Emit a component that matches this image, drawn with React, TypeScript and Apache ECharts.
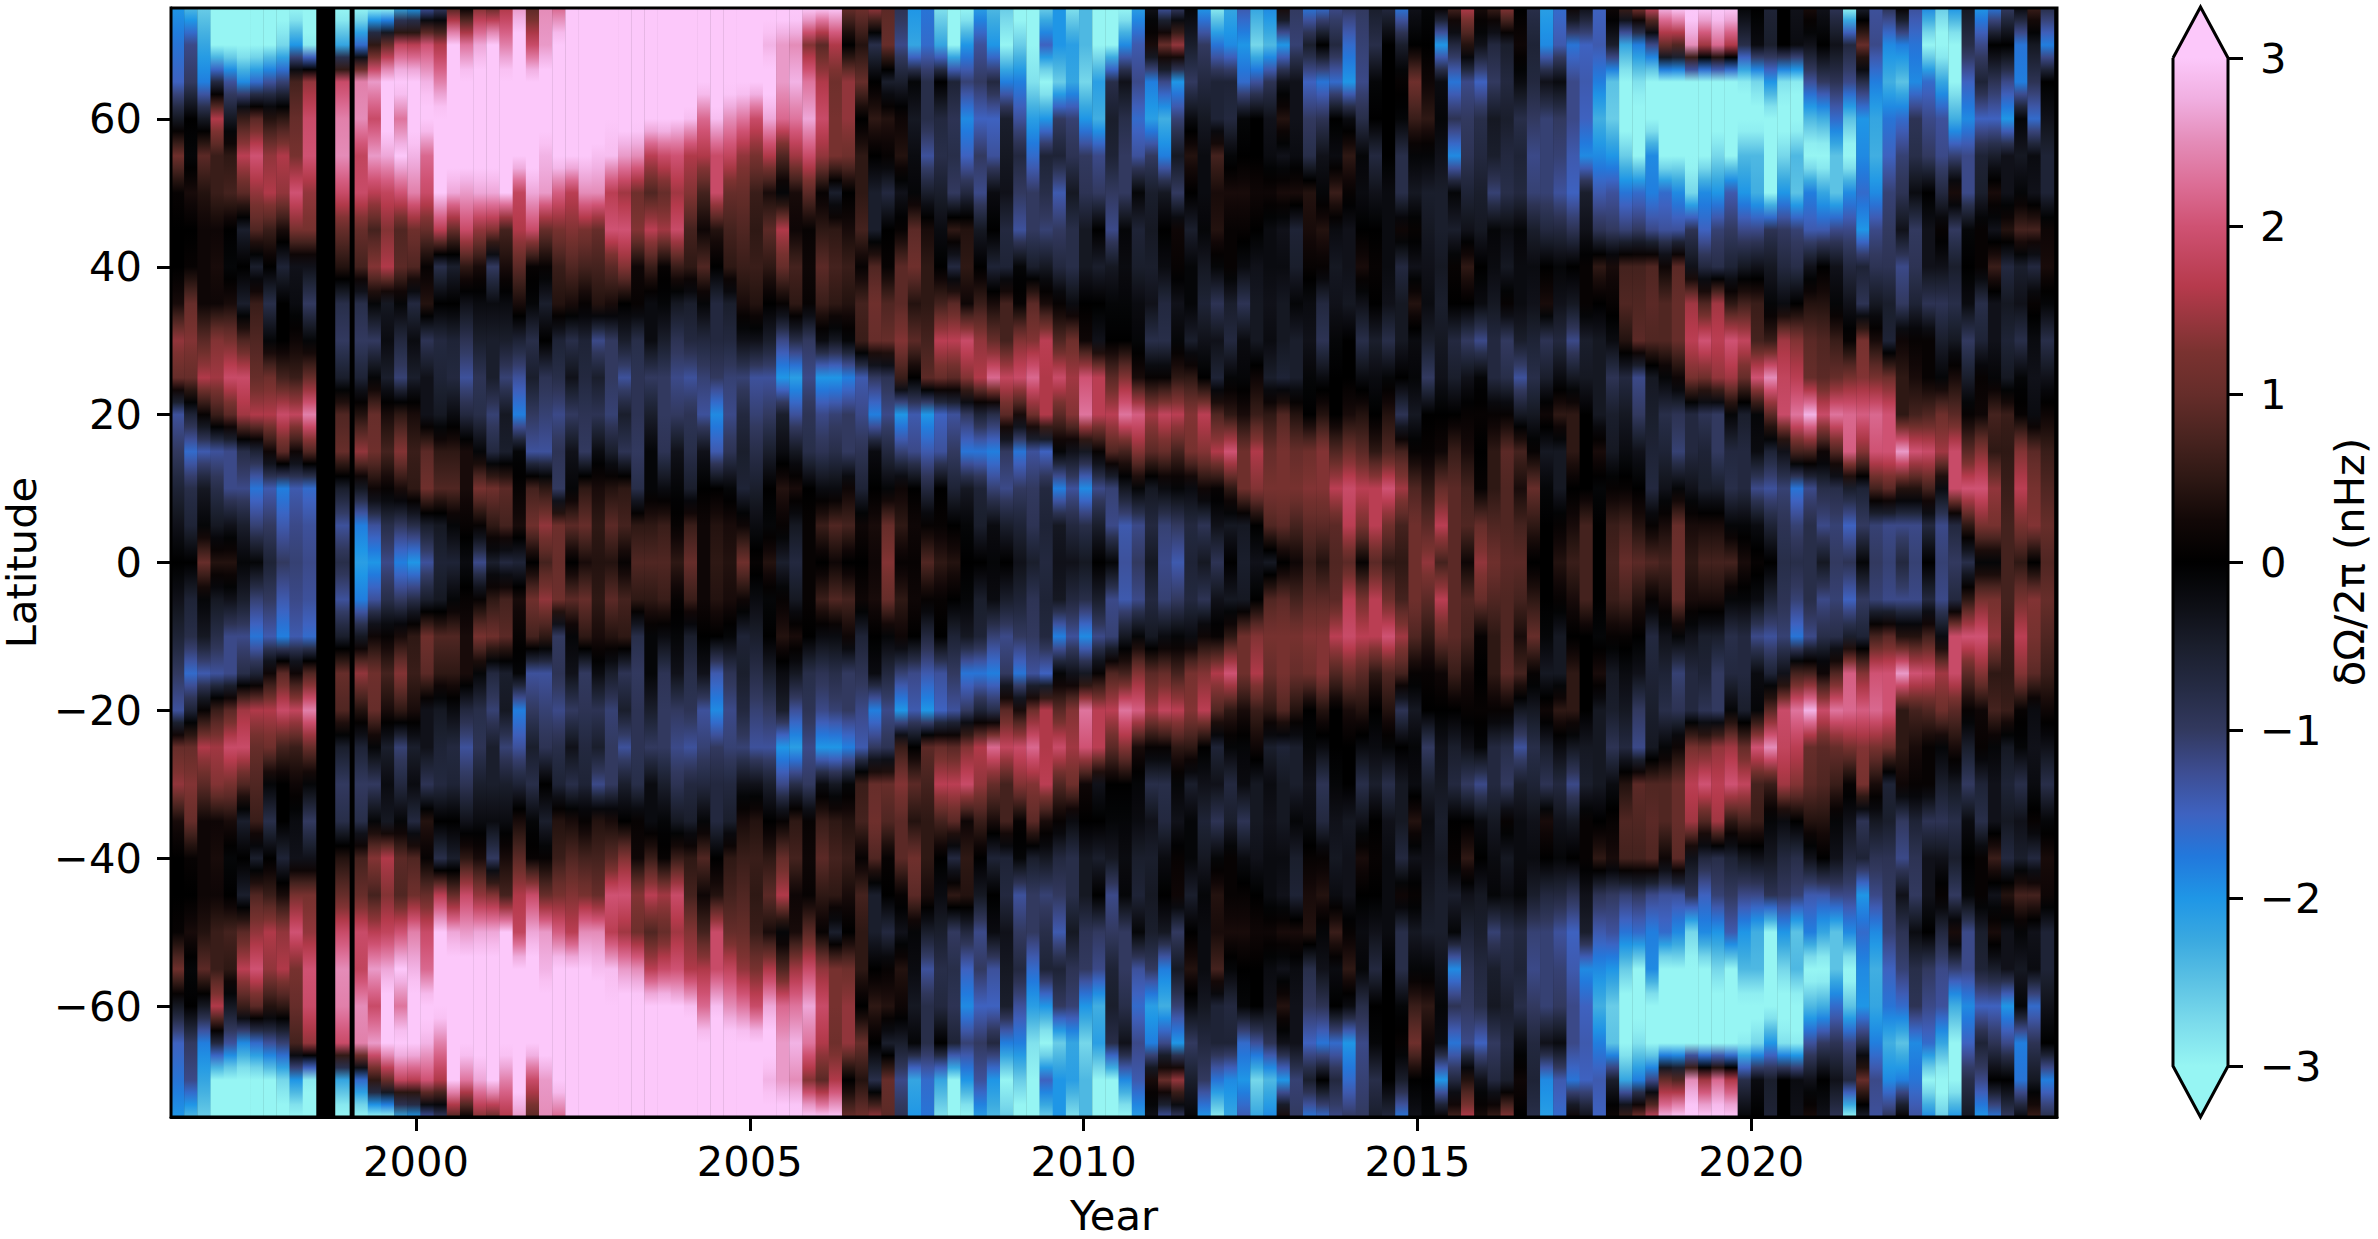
import React, { useEffect, useRef } from "react";
import * as echarts from "echarts";

// Latitudes of each column's values, north to equator; the map is symmetric about the equator.
const latitudesNorth = [75, 70, 65, 60, 55, 50, 45, 40, 35, 30, 25, 20, 15, 10, 5, 0];
const yearTicks = [2000, 2005, 2010, 2015, 2020];
const latitudeTicks = [-60, -40, -20, 0, 20, 40, 60];
const colorbarTicks = [-3, -2, -1, 0, 1, 2, 3];
const colorValues = [-3, -2.75, -2.5, -2.25, -2, -1.75, -1.5, -1.25, -1, -0.75, -0.5, -0.25, 0, 0.25, 0.5, 0.75, 1, 1.25, 1.64, 2, 2.25, 2.5, 2.75, 3];
const colorHex = ["#96f5f3", "#7cdcec", "#5cc2e4", "#3aa9e0", "#1f96e6", "#2278dc", "#3e62c0", "#3d4d92", "#32395f", "#252b44", "#1a1e2c", "#0d0e14", "#000000", "#120807", "#2e1814", "#4a2420", "#662d2a", "#7a3230", "#b63a4c", "#cf5273", "#dc6e96", "#e48cb8", "#f0aee0", "#fcc8fa"];

const cols1996 = [
[-2,-1.7,-1.5,-.4,1.1,.1,0,0,.3,1.4,1,-1.3,-1,-.6,-.3,0],
[-2.4,-1.2,-1,0,-.1,.3,0,.1,1,1.3,1,-.6,-1.6,-.8,-.6,0],
[-2.6,-2.2,-1.8,-.4,.9,.4,.2,.2,.2,.9,1.6,.1,-1.4,-.4,-.1,1],
[-3.2,-3.2,-.7,1.6,.6,.6,.2,.3,.2,1.3,1.5,.6,-1.3,-.8,-.4,.4],
[-3.2,-3.2,-1.3,-.4,.5,.7,0,-.1,.3,1.2,1.9,.9,-1.2,-1.2,-.3,.4],
[-3.2,-3.2,-1.9,.6,1.7,.9,-.5,0,-.5,.8,1.9,1.5,-.8,-1.2,-.5,-.1],
[-3.2,-3.2,-1.6,.9,2,1.4,.8,-.5,.6,.8,1,1.6,-.6,-1.7,-1.1,-.1],
[-3.2,-3,-1.3,.4,1.4,1.6,.6,0,-.8,-.1,1.1,1.6,.2,-1.4,-1,-.6],
[-3.2,-2.7,-1.1,.5,1.6,1.4,.3,-.6,0,0,.7,1.9,.9,-1.8,-1.4,-1],
[-3.2,-2,.7,1,1.2,2,1.2,-.3,-.2,.2,.6,1.8,.2,-1.4,-1.2,-1.1],
[-3.2,-2.9,1.4,1.9,2,1.4,1.2,-.3,-1,-.1,1,2.4,.8,-1.6,-1.3,-1.2],
[-3.2,-2.2,1.9,2.4,2.5,1.9,1,.4,-.8,-1,-.5,.8,1,-.5,-1.3,-.8],
[-3.2,-1.6,2.4,2.5,1.8,1.9,1,.7,-.8,-1,-.6,.4,1.4,-.4,-1.8,-2.1],
[-3.2,.5,2.6,1.9,2.6,1.7,.7,1.3,-.1,-1,-.1,1,1.1,.2,-1.3,-2],
[-3.2,1,3.2,3.2,2.7,1.8,1.3,1.6,-.4,-.2,-.5,.3,.7,.1,-.8,-1.2],
[-2.2,1.8,3.2,2.3,3,2,.8,.9,-.1,-.7,-1.1,.5,1.3,.3,-1,-1.8],
[-2,1.7,3.2,3.2,2.8,2.4,1.1,.8,-.7,-.2,-.5,.3,.6,.5,-.8,-2],
[-1.3,2,2.8,3.2,2.2,1.9,1,.1,.4,-.9,-.3,-.3,.9,1.1,-.5,-1.3],
[-1,1.6,2.4,3.2,3.2,3,1.7,-.8,0,-.7,-.6,-.4,.5,.8,-.4,-.6],
[.8,3.2,3.2,3.2,3.2,2.7,1,-.5,0,-.6,-.7,-.2,.5,.8,-.1,-.6],
[.1,2.3,3.2,3.2,3.2,2.6,1.9,.5,-.3,-.9,-1.3,-.7,.3,.3,.1,-.2],
[1.3,2.7,3.2,3.2,3.2,2.7,1.4,.3,-.2,-.5,-.9,-.8,-.1,1.2,.1,-1.2],
];
const cols2000 = [
[1,3.2,3.2,3.2,3.2,2.7,1.3,-1,-.2,-.5,-.5,-1.1,-.7,1.1,.5,-.5],
[1.6,2.4,3.2,3.2,3.2,3,.7,.3,-.2,-.5,-1.1,-.4,-.5,.9,.7,-.7],
[2.6,3.2,3.2,3.2,3.2,1.8,1.6,.9,.3,-.6,-1.3,-1.8,-.1,.1,.3,-.6],
[.9,1.9,3.2,3.2,3.2,2.7,1.9,.1,-.1,-.8,-.5,-1,-1.3,.7,1.1,0],
[2.5,2.6,3.2,3.2,2.8,2.6,1,.1,-.5,0,-.9,-1.1,-1.3,.5,1.4,.7],
[2.2,3.2,3.2,3.2,3.2,2.1,1.2,.6,.4,-.6,-.8,-1.2,-.9,-1,1.1,1],
[3.2,3.2,3.2,3.2,3.2,1.7,1.3,.8,.3,-.8,-.3,-1,-.3,-.1,.9,0],
[3.2,3.2,3.2,3.2,3,2.5,1.2,.7,.1,-.6,-.7,-.9,-1,.5,1,.3],
[3.2,3.2,3.2,3.2,2.9,2.5,1,.7,.4,-1.2,-.5,-.9,-.2,.3,.5,.4],
[3.2,3.2,3.2,3,2.9,1.7,2,.9,.3,-1,-1,-1.1,-.5,.4,.9,.4],
[3.2,3.2,3.2,3.2,2.6,1.5,2,1.3,0,-.5,-1.3,-.5,-.9,.5,.7,.1],
[3.2,3.2,3.2,3.2,2.5,1.1,1.3,.2,.1,-.8,-.9,-.9,-1,-.8,.5,.8],
[3.2,3.2,3.2,3.2,1.7,.8,1.7,.6,-.2,-.2,-1,-.5,-.1,-.1,.5,.8],
[3.2,3.2,3.2,3.2,1.9,1,1.5,.1,-.1,-.5,-1,-1,-.9,-.2,.6,.8],
[3.2,3.2,3.2,3,2,1.5,1.9,.6,-.4,-.9,-1.2,-1,-.3,-.1,.1,.5],
[3.2,3.2,3.2,2.9,1.6,1.3,.7,.5,-.5,-.7,-1.3,-.9,-.8,-.5,.6,1],
[3.2,3.2,3.2,2.2,1.6,.7,.2,.8,-.1,-.7,-1.1,-1.3,-.3,0,.2,.2],
[3.2,3.2,3.2,2.9,1.9,1.9,.4,0,-.7,-.7,-1,-1.9,-1.4,0,.4,.5],
[3.2,3.2,3.2,2.5,1.8,1,.7,.5,-.5,-.7,-1.1,-1.2,-.9,-.1,.3,.4],
[3.2,3.2,3.2,2.3,1.4,1,.8,.6,.3,-.3,-1.1,-.7,-.5,-.6,.2,1.1],
[3.2,3.2,3.2,1.9,1.2,.6,.5,.6,.4,-.3,-1.3,-1.1,-.8,-.5,-.2,.1],
[3.2,2.8,3.2,2.7,1.6,.3,.9,.5,0,-.5,-1.3,-1,-.5,0,-.1,.4],
[3.2,2.6,2.6,2.2,.8,-.1,1.6,1,.1,-1.2,-2,-.5,-.2,.4,.1,-.5],
[3.2,2.5,2.8,2.3,1.5,.3,.2,.7,.5,-.8,-2.1,-1.3,-.4,.3,-.4,-.7],
];
const cols2005 = [
[3.2,1.3,2.3,2.7,1.9,.9,.1,.2,.1,-1,-1.2,-.9,-.8,0,.1,.1],
[3,.9,1.6,1.9,1.4,.1,.5,.9,.6,-.2,-2,-1.2,-.9,-.2,.6,0],
[3,1.6,1.1,1.2,1.2,-.5,.5,.7,.5,-.4,-2,-1.1,-.8,-.2,.8,.2],
[1,0,1.4,1.4,1.1,0,.3,.6,.4,-.1,-1.8,-1,-1,.2,.7,0],
[1.1,.4,1,0,.5,.5,.7,.1,.7,.6,-1.4,-1.2,-.9,-.6,.2,0],
[1.4,-.8,0,.5,0,-.5,-.5,.8,1.1,1,-1,-1.8,-.2,0,.3,.2],
[.9,1,-.5,.4,.1,-.7,0,.1,.8,1,-.9,-1.2,-.7,-.1,1,1.3],
[-.9,-1.2,-.5,.2,.4,-.3,.1,.9,.9,1.3,.6,-2,-1.1,.2,.5,.1],
[-2,-2.2,-.1,-.4,-.2,-.1,.9,1.1,.4,.9,0,-1.4,-1.2,0,.2,.1],
[-1.7,-1.6,-.8,-.8,-1.3,-.5,.3,.5,.5,.7,.9,-2,-1.4,-.7,.1,.8],
[-2.8,-2.2,0,-.7,-.8,-.5,-.2,0,.7,1.7,1,-1.5,-1.3,0,.1,.5],
[-3.2,-3,-.6,-.9,-.8,-1,.5,-.7,.9,1.7,.9,-1.3,-1,-.6,0,.4],
[-3.2,-2,-1.1,-1.9,-1.5,-.7,.4,.5,.2,1.9,1.3,-1,-1.7,-.4,-.1,0],
[-2.1,-1.3,-1,-1.5,-1,-1.2,-.4,0,.6,1.4,1.6,-.6,-1.7,-.6,-.5,0],
[-2.4,-2,-.7,-1.5,-1.3,-.2,0,-.6,.3,1,2.2,-.8,-1.8,-1.1,-.2,-.1],
[-2.6,-3,-1.8,-.5,-.4,-.3,-.7,-.6,.7,.7,1.8,.9,-1,-1.2,-.5,0],
[-3.2,-2.6,-1.8,-1.3,-.7,-1,-1.3,-.1,.1,1.3,1.9,.3,-1.7,-1,-.6,-.3],
[-3.2,-3,-2.8,-2.1,-1.6,-1,-1,-.5,.9,1.3,2.2,1.1,-1.3,-1,-.9,-.5],
[-2.6,-1.5,-3.2,-2,-.6,-.8,-1.1,-.4,.3,1.7,1.6,1.6,-1.5,-.7,-.6,-.7],
[-2,-2,-2.6,-1,-.6,-1.4,-1,-.7,.1,.8,1.9,.9,-.1,-1.8,-.4,-.3],
[-2.8,-2.1,-2.2,-1.1,-.9,-.4,-.8,-.8,-.2,1.1,1.5,1.3,-.3,-1.3,-.7,-.3],
[-2.4,-2.4,-2.7,-2,-1,-.9,-.4,-.4,0,.2,2,2.3,-.4,-1.9,-.8,-.4],
[-3.2,-3,-2.1,-2.3,-1.2,-1,0,-.5,0,-.3,1.7,1.7,.1,-1.2,-.5,0],
[-3.2,-3,-.8,-.5,-.6,-1,-1.2,-.4,-.1,0,.9,1.7,.8,-1.1,-1.2,-.1],
];
const cols2010 = [
[-3.2,-1.9,-.3,-.8,-1,-1,-.1,-.2,-.1,0,1.3,2.3,.7,-.4,-1.4,-1.3],
[-2.1,-1.4,-1.2,-1.6,-1.3,-.1,-.6,-.5,-.2,-.1,.3,2.1,1.3,-.1,-1.2,-1],
[-.3,.3,-1.8,-2.1,-1,-.5,-.4,-.5,-.3,-.8,.1,1.5,.9,-.4,-.7,-.4],
[-1.3,1,-1.2,-2.3,-1.8,-.4,0,-.2,-.7,-.8,.1,1.8,1,-.2,-1.1,-1.2],
[-1,1.4,-2,-1.1,-.4,-1,.2,.1,-.3,-.1,.5,1.7,.7,-.1,-1,-1.4],
[-.1,-.5,-1,-.2,.4,0,-.5,-.1,-.1,-.5,.5,1.3,1.2,-.2,-.7,-.6],
[-2,-1,-.7,-.4,-.2,-.2,-.1,-.4,-.6,-.3,0,1.7,1.3,.2,-.9,-.4],
[-2.9,-1.7,-.6,-.6,.7,.3,.4,-.1,-.9,-.3,-.6,.8,1.6,.1,-.3,-.9],
[-2.2,-1.9,-.6,-.7,-.1,.3,.1,.1,-.5,-.7,-.1,.5,2,.5,-.4,0],
[-1.4,-2,-1.6,-.1,0,.3,.1,-.2,-.9,-.2,-.1,.3,1.1,1.1,-.4,-.5],
[-2.2,-2.7,-1.3,0,0,.2,0,-.3,-.4,-.4,.2,.6,1.6,1.3,0,-.3],
[-1.9,-2.4,-.9,-.3,-.2,.2,-.2,-.2,-.3,-.2,-.5,.5,1,1.2,.8,-.4],
[.3,-2,-.3,.4,-.3,.3,-.3,-.2,-.4,-.4,-.6,.8,1.2,1.2,.9,0],
[-1,-1.1,-.3,-.3,-.2,.3,-.6,-.5,-.1,-.5,-.5,.4,1,1.2,.7,.2],
[-1.7,-.5,-1.5,-1,-.8,.4,.3,.1,-.2,-.3,-.1,0,1.1,1.3,.9,.6],
[-1.6,0,-1.7,-.9,-.3,-.1,.4,.1,-.7,-.9,-.2,.4,1.3,1.3,.9,.4],
[-1.2,-.7,-1.6,0,-.2,.6,-.2,-.4,-.3,-.1,0,0,.8,1.7,.9,.8],
[-1,-1.6,-2,-.2,.5,.1,-.3,-.3,-.4,0,0,.3,1.1,1.9,1.7,.9],
[-1,-1.1,-1.2,-.8,-.1,-.2,0,.3,-.3,-.8,-.2,.4,.9,1.7,1.2,.1],
[-.5,-.8,-.1,0,-.7,-.3,0,.1,0,-.5,-.2,0,.5,1.7,1.7,.9],
[-.7,0,0,0,0,-.2,-.2,-.2,-.3,-.8,-.1,.4,.8,2,1.1,.5],
[-1.7,-.5,.1,-.1,-.8,-.8,.2,-.7,-.4,-.4,0,-.9,.7,1.5,.7,.5],
[-.3,0,1.1,.6,-.1,-.4,.1,-.3,.4,-.2,-.1,-.4,.1,.8,1.1,1.1],
[-.1,0,.2,.5,-.1,-.5,-.4,-.3,-.2,-.5,-1,0,.1,.5,.9,1.4],
];
const cols2015 = [
[.1,-2,-.2,-.1,-.3,-.5,-.5,-.4,-.5,-.4,-.3,0,.2,1,1.7,.7],
[.7,-.7,-1.7,-.9,-1.9,-.1,-.5,.1,0,-.7,-.5,0,.6,.9,.9,.9],
[1.6,.4,-1.2,-1,-.9,-.6,-.3,.5,0,-1,-.3,.1,.3,.7,.8,.2],
[.3,-.3,-1.5,-.8,-.7,-.5,-.4,0,-.2,-1.2,-.1,.1,0,.1,1,1.4],
[.6,-.7,-1,-.4,-.5,-1.1,-.1,-.2,-.4,-.7,-.7,.1,.5,.5,.8,1.1],
[1.3,-.5,-.7,-.5,-.7,-.8,-.2,-.4,.1,-1,-.8,.1,.9,.8,.8,.9],
[0,.2,-.2,-.8,-.6,-.7,-.1,-.2,-.2,-.5,-1.3,-.4,.7,.3,.7,.9],
[-.8,-.6,-.7,-1,-1.2,-1.1,-.5,-.2,-.3,-.6,-.8,-.4,.1,1,.5,0],
[-2.1,-1.9,-.3,-1.1,-1.1,-1.1,-.7,0,.3,-.9,-.5,.2,-.4,-.1,0,0],
[-1.6,-1.4,-.2,-1,-1.1,-1.3,-.7,-.1,-.3,-.7,-.2,.5,-.4,-.4,.1,.4],
[.2,-1.7,-1.2,-1.2,-1.4,-1.5,-.9,0,-.4,-1.2,-.4,.5,.5,0,.3,.6],
[-.3,-1.5,-1.4,-1.5,-1.9,-.5,-.3,.1,.1,-.5,-.4,0,0,0,.7,.7],
[-1.5,-1.4,-1.8,-2.3,-1.9,-1.4,-.9,.5,0,-.4,-.4,-.4,.3,-.1,0,0],
[.2,-.5,-2.5,-2.6,-2,-1.3,-1,.3,.1,-.2,-.9,-.5,-.4,.1,.6,.7],
[.6,-2.2,-3.1,-3.2,-2.6,-1.7,-1.1,.7,.8,.4,-.7,-.4,-.2,.1,.7,1],
[1.2,-1.8,-2.8,-3.2,-3,-1.6,-1,.7,.8,.9,-1.2,-1,-.3,0,.4,.9],
[1.8,-1.2,-3.2,-3.2,-1.9,-1.8,-1.2,.8,.9,.8,-.4,-.5,-.6,-.7,.1,.8],
[2.8,1,-3.2,-3.2,-3.2,-1.6,-1.3,.2,.8,.8,-.1,-.8,-.6,-.3,.3,.7],
[3.2,.8,-3.2,-3.2,-3,-1.9,-1.3,.9,1,1,.2,-.9,-1.1,-.1,1,1.1],
[3.2,2.5,-3.2,-3.2,-3.1,-2.7,-.9,-.3,1.5,1.7,1.2,-.7,-.7,-.3,.3,.5],
[3.2,1.5,-3.2,-3.2,-3.1,-1.9,-1.5,-.7,.8,2,1.1,-.9,-.6,-.5,.3,.7],
[3.2,2.2,-3.2,-3.2,-2.7,-2,-1.1,-.8,1.5,1.7,1.4,-1,-1,-.5,.3,.7],
[3.2,1.6,-3.2,-3.2,-3,-1.4,-1,-.6,.5,2,1.5,-.1,-.7,-.8,-.1,.7],
[-.1,-.8,-2.9,-3.2,-2.4,-2,-1.2,-.4,.7,1.8,1,-.5,-.7,-.7,-.1,.3],
];
const cols2020 = [
[0,-.2,-2.7,-3.2,-2.4,-2.3,-1.2,-.3,.6,.7,2,-.1,-.2,-1.2,-.2,.1],
[-.6,-.5,-2,-3.2,-3.2,-3,-.9,-.4,-.1,.6,2.5,.9,-.6,-1.3,-.6,0],
[0,0,-2.8,-3.2,-2.7,-2,-1,-.7,-.2,1.5,1.8,1.9,-.3,-1.1,-.9,-.8],
[-.3,-.2,-2.9,-3.2,-2.4,-2.5,-1.1,-.8,0,1.3,1.7,2.3,.7,-1.7,-1.1,-.8],
[.3,-.3,-1.3,-2.4,-3.2,-1.8,-1.4,-.3,.4,.9,1,2.8,.7,-1.2,-.8,-.8],
[-.3,0,-1,-2.3,-3.2,-2.2,-1.4,0,.4,.8,.9,1.9,.2,-.8,-1.2,-.4],
[-.9,-.3,-.9,-1.6,-2.5,-2.5,-1.2,-.3,-.1,.6,1,2.3,.8,-.8,-1.1,-1],
[-3,-.7,-1.2,-2.5,-3.2,-1.9,-1.2,-.7,-.3,.1,1.2,2.2,2.1,-.5,-1.5,-.9],
[-.5,1,-.8,-2,-1.9,-1.6,-2,-.6,-.9,1.2,1.3,2.1,1.3,-.6,-1,-.1],
[-1.3,-1.2,-1.8,-2.2,-2.3,-1.9,-1.2,-.9,-.4,.3,1.2,2.2,2,.7,-1.1,-1],
[-.9,-1.9,-2.3,-1.7,-1.5,-1.1,-1,-.9,-.5,-.6,1.1,2,2,.9,-1.2,-1.1],
[.1,-1.8,-2.5,-1.6,-1.1,-.9,-.3,-1.2,-1,.2,.5,.5,2.6,.4,-1.2,-.7],
[-1.3,-1.7,-1.9,-.9,-.8,-.2,-1,-.9,-.6,.1,.3,.7,2,.4,-1.2,-1.1],
[-1.9,-3.1,-1.6,-1.2,-1,0,-.3,-.3,-.9,.1,.1,.8,1.9,.7,-.7,0],
[-2.6,-3.2,-2.2,-1.3,-1.2,-.7,.1,-.3,-.9,-.5,-.1,1.1,1.5,-.2,-1.2,-1.1],
[-2,-3.2,-3,-2.3,-1.1,.3,-1,-.5,-.8,-.4,.3,.9,1.9,1.9,-.7,-1],
[-.4,-.8,-1.5,-1.9,-1.2,-1.2,-.1,0,-.2,-1,-.5,.1,.9,2,.5,-.8],
[-2,-1.2,-.6,-1.5,-.6,-.5,.1,.1,-.8,-.6,.1,.2,1.3,2,1.2,-.1],
[-1.7,0,-.9,-1.5,-.5,.3,-.3,.6,-.3,-.3,-.1,.7,.5,1.4,1.2,-.1],
[-1,0,-1.2,-2,-.3,-.3,.4,-.7,-.4,-.6,-.4,.6,.5,.6,.7,.7],
[-.2,-1.7,-1.8,-.1,-.4,-.1,.7,-.5,-.3,-.8,-.1,.1,1.3,1.7,1.2,.5],
[.6,-.4,-.9,-1.6,-.2,-.3,.7,-.7,.1,-.2,-.3,-.2,.9,1.2,1.3,0],
[-.8,-1.8,0,-.3,-.6,-.6,.2,.3,-.1,-.8,-.3,.2,.6,.8,1,.8],
];

const columns = [...cols1996, ...cols2000, ...cols2005, ...cols2010, ...cols2015, ...cols2020];

const X_MIN = 1996.33;
const X_MAX = 2024.58;
const COL = 0.1973;

function columnSpan(i: number): [number, number] {
  if (i < 11) return [X_MIN + i * COL, X_MIN + (i + 1) * COL];
  if (i === 11) return [1998.79, 1999.0];
  return [1999.08 + (i - 12) * COL, 1999.08 + (i - 11) * COL];
}

function hexRgb(h: string) {
  return [1, 3, 5].map((k) => parseInt(h.slice(k, k + 2), 16));
}
const colorRgb = colorHex.map(hexRgb);

function colorOf(v: number) {
  const x = Math.max(-3, Math.min(3, v));
  let k = 0;
  while (k < colorValues.length - 2 && x > colorValues[k + 1]) k++;
  const t = (x - colorValues[k]) / (colorValues[k + 1] - colorValues[k]);
  const c = colorRgb[k].map((a, n) => Math.round(a + (colorRgb[k + 1][n] - a) * t));
  return `rgb(${c[0]},${c[1]},${c[2]})`;
}

function columnStops(vals: number[]) {
  const full = [...vals, ...vals.slice(0, -1).reverse()];
  const stops: { offset: number; color: string }[] = [];
  const sub = 3;
  for (let j = 0; j < full.length - 1; j++) {
    for (let s = 0; s < sub; s++) {
      const t = s / sub;
      stops.push({ offset: (j + t) / (full.length - 1), color: colorOf(full[j] + (full[j + 1] - full[j]) * t) });
    }
  }
  stops.push({ offset: 1, color: colorOf(full[full.length - 1]) });
  return stops;
}

const FONT = "DejaVu Sans";
const FS = 41.67;
const minus = (v: number) => String(v).replace("-", "\u2212");

export default function App() {
  const ref = useRef<HTMLDivElement>(null);
  useEffect(() => {
    document.body.style.margin = "0";
    const chart = echarts.init(ref.current!, undefined, { renderer: "svg" });
    const heatData = columns.map((_, i) => {
      const [a, b] = columnSpan(i);
      return [a, b, -75, 75];
    });
    const barStops = colorValues.map((v, i) => ({ offset: (3 - v) / 6, color: colorHex[i] })).reverse();
    chart.setOption({
      animation: false,
      backgroundColor: "#fff",
      textStyle: { fontFamily: FONT },
      grid: [
        { left: 171, top: 8, width: 1886, height: 1109, show: true, backgroundColor: "#000", borderWidth: 0, outerBoundsMode: "none" },
        { left: 2173, top: 58, width: 55, height: 1008, outerBoundsMode: "none" },
      ],
      xAxis: [
        {
          type: "value", gridIndex: 0, min: X_MIN, max: X_MAX,
          name: "Year", nameLocation: "middle", nameGap: 77, nameMoveOverlap: false,
          nameTextStyle: { color: "#000", fontSize: FS, fontFamily: FONT },
          axisLine: { onZero: false, lineStyle: { color: "#000", width: 3 } },
          axisTick: { length: 14, lineStyle: { color: "#000", width: 3 }, customValues: yearTicks },
          axisLabel: { color: "#000", fontSize: FS, fontFamily: FONT, margin: 23, customValues: yearTicks, formatter: (v: number) => String(v) },
          splitLine: { show: false },
        },
        { type: "value", gridIndex: 1, min: 0, max: 1, show: false },
      ],
      yAxis: [
        {
          type: "value", gridIndex: 0, min: -75, max: 75,
          name: "Latitude", nameLocation: "middle", nameGap: 129, nameMoveOverlap: false,
          nameTextStyle: { color: "#000", fontSize: FS, fontFamily: FONT },
          axisLine: { onZero: false, lineStyle: { color: "#000", width: 3 } },
          axisTick: { length: 14, lineStyle: { color: "#000", width: 3 }, customValues: latitudeTicks },
          axisLabel: { color: "#000", fontSize: FS, fontFamily: FONT, margin: 29, customValues: latitudeTicks, formatter: (v: number) => minus(v) },
          splitLine: { show: false },
        },
        {
          type: "value", gridIndex: 1, min: -3, max: 3, position: "right",
          name: "δΩ/2π (nHz)", nameLocation: "middle", nameGap: 100, nameRotate: 90, nameMoveOverlap: false,
          nameTextStyle: { color: "#000", fontSize: FS, fontFamily: FONT },
          axisLine: { show: false, onZero: false },
          axisTick: { show: true, length: 15, lineStyle: { color: "#000", width: 3 }, customValues: colorbarTicks },
          axisLabel: { color: "#000", fontSize: FS, fontFamily: FONT, margin: 32, customValues: colorbarTicks, formatter: (v: number) => minus(v) },
          splitLine: { show: false },
        },
      ],
      series: [
        {
          type: "custom", xAxisIndex: 0, yAxisIndex: 0, clip: true,
          encode: { x: [0, 1], y: [2, 3] },
          data: heatData,
          renderItem: (params: any, api: any) => {
            const p0 = api.coord([api.value(0), api.value(3)]);
            const p1 = api.coord([api.value(1), api.value(2)]);
            return {
              type: "rect",
              shape: { x: p0[0], y: p0[1], width: p1[0] - p0[0] + 0.4, height: p1[1] - p0[1] },
              style: { fill: new echarts.graphic.LinearGradient(0, 0, 0, 1, columnStops(columns[params.dataIndex])) },
            };
          },
        },
        {
          type: "custom", xAxisIndex: 1, yAxisIndex: 1, clip: false,
          encode: { x: [0, 1], y: [2, 3] },
          data: [[0, 1, -3, 3]],
          renderItem: (_: any, api: any) => {
            const a = api.coord([0, 3]);
            const b = api.coord([1, -3]);
            const m = (a[0] + b[0]) / 2;
            const tip = 51;
            const outline = [[a[0], a[1]], [m, a[1] - tip], [b[0], a[1]], [b[0], b[1]], [m, b[1] + tip], [a[0], b[1]], [a[0], a[1]]];
            return {
              type: "group",
              children: [
                { type: "polygon", shape: { points: [[a[0], a[1]], [m, a[1] - tip], [b[0], a[1]]] }, style: { fill: colorHex[colorHex.length - 1] } },
                { type: "polygon", shape: { points: [[a[0], b[1]], [m, b[1] + tip], [b[0], b[1]]] }, style: { fill: colorHex[0] } },
                { type: "rect", shape: { x: a[0], y: a[1], width: b[0] - a[0], height: b[1] - a[1] }, style: { fill: new echarts.graphic.LinearGradient(0, 0, 0, 1, barStops) } },
                { type: "polyline", shape: { points: outline }, style: { fill: "none", stroke: "#000", lineWidth: 3 } },
              ],
            };
          },
        },
      ],
      graphic: [
        { type: "rect", z: 100, shape: { x: 171, y: 8, width: 1886, height: 1109 }, style: { fill: "none", stroke: "#000", lineWidth: 3 } },
      ],
    });
    return () => chart.dispose();
  }, []);
  return <div ref={ref} style={{ position: "absolute", left: 0, top: 0, width: 2378, height: 1239 }} />;
}
